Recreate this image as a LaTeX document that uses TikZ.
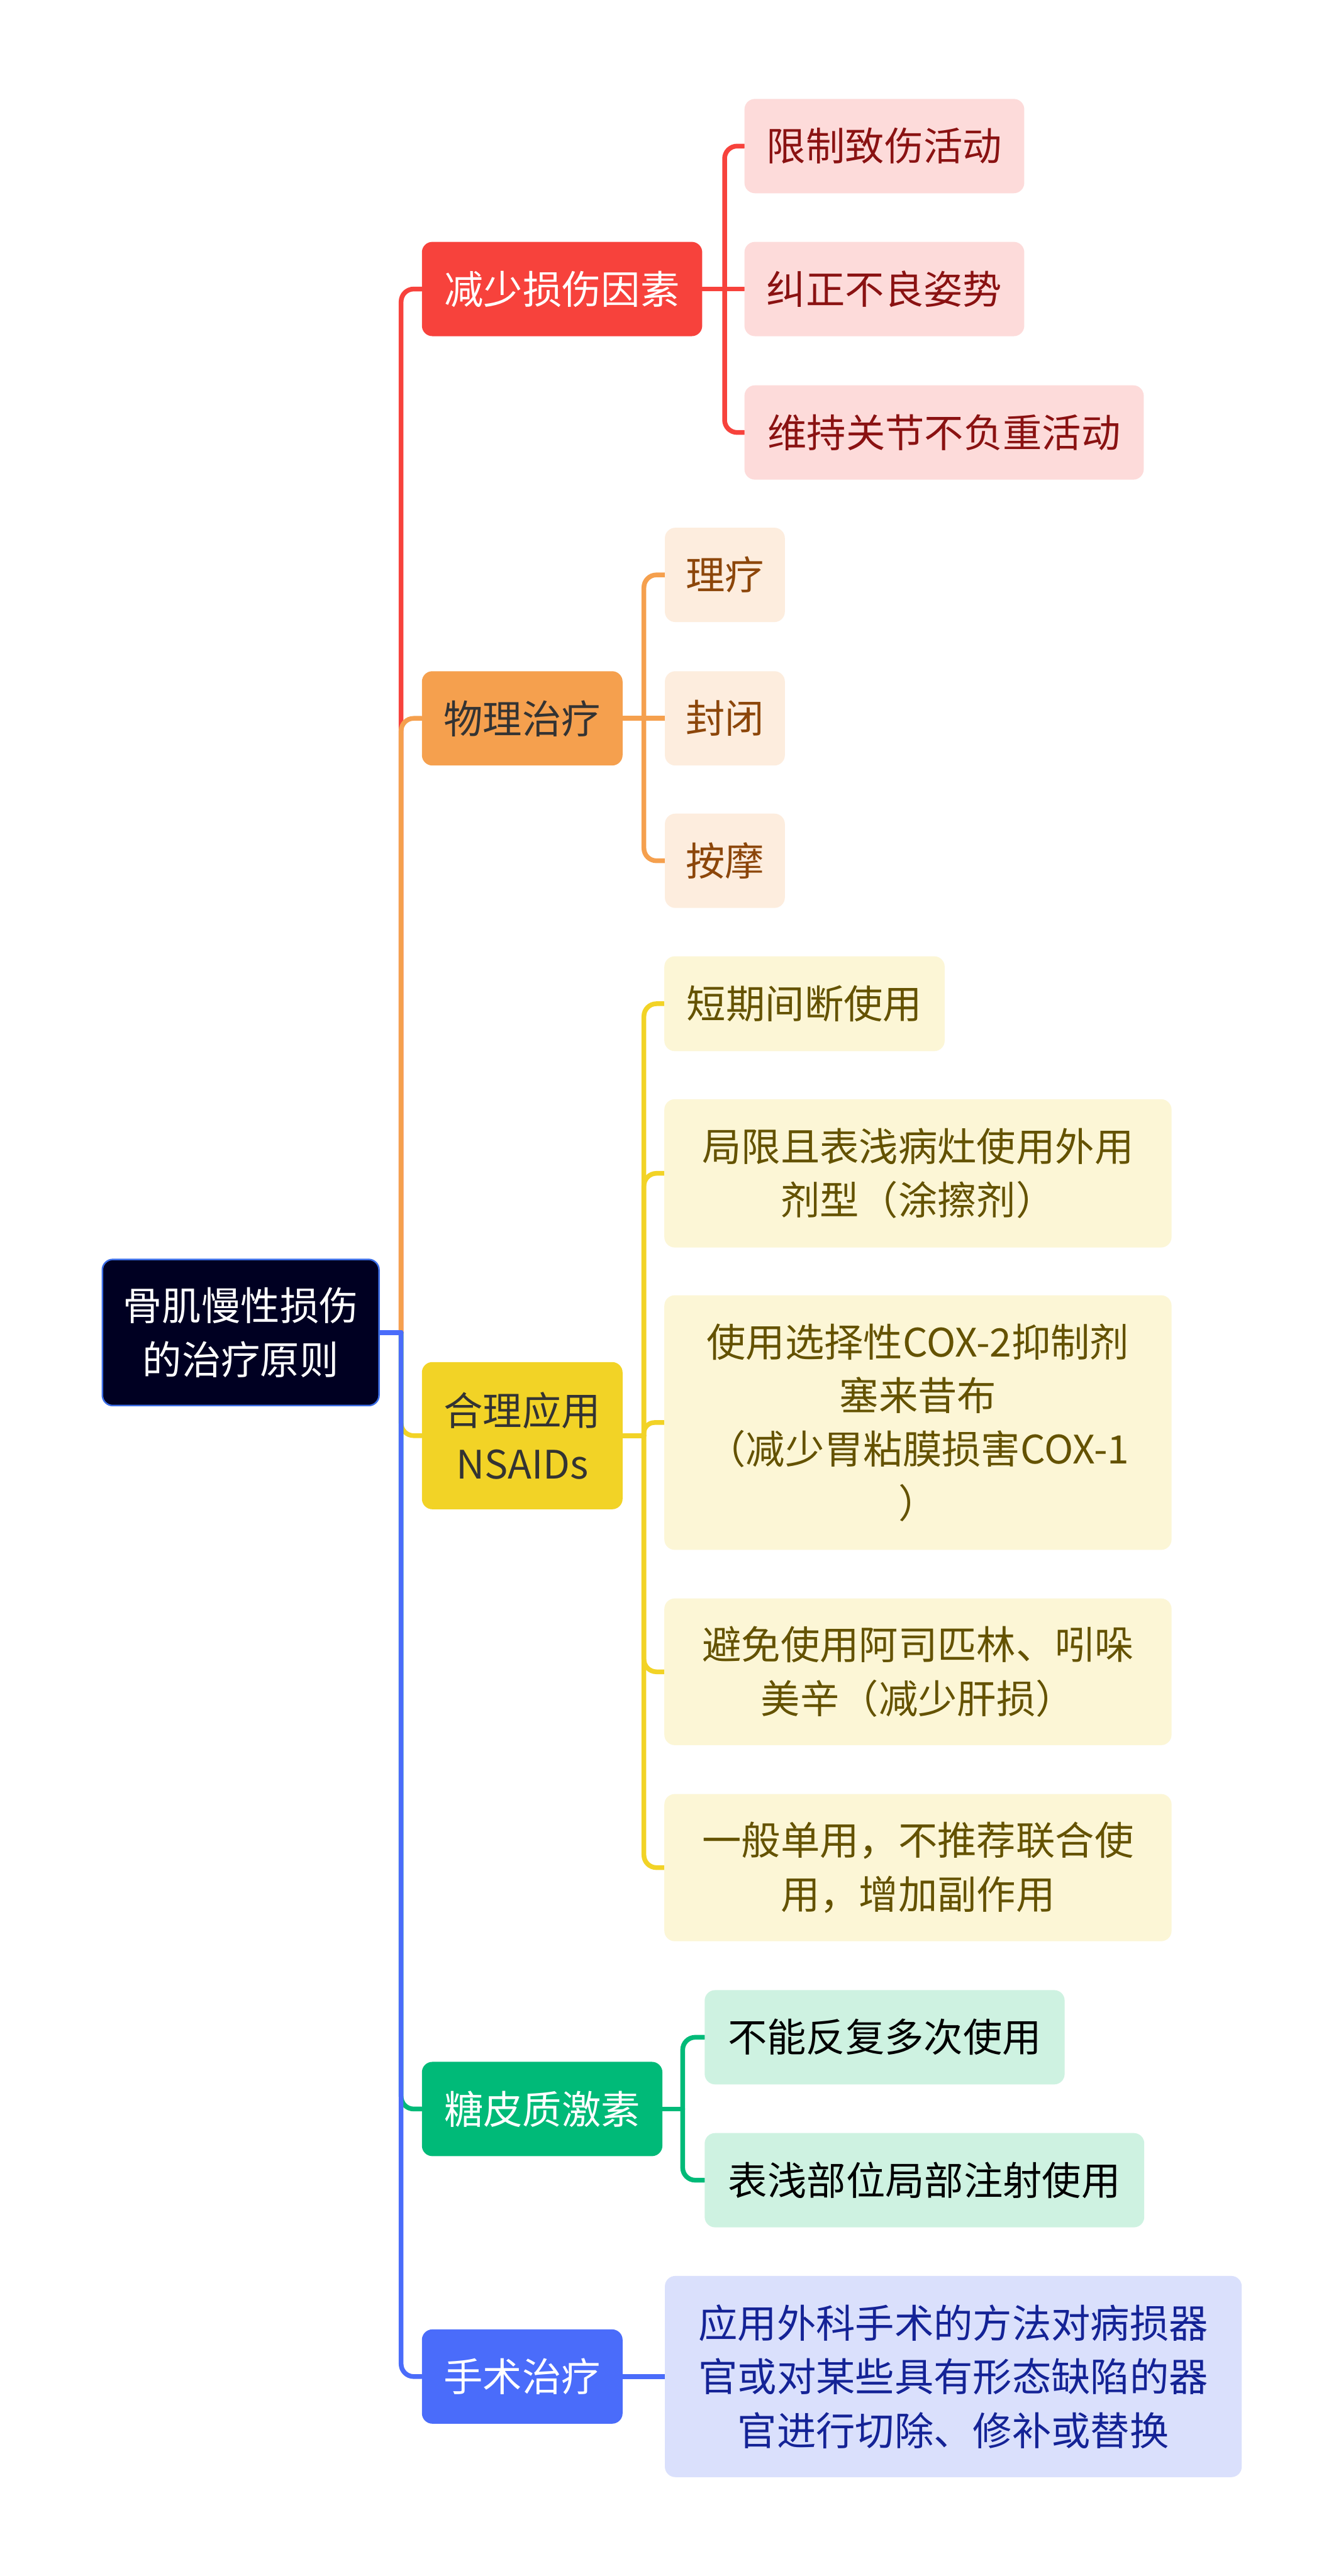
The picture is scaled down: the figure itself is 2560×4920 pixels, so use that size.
\documentclass[tikz,border=0pt]{standalone}
\usepackage{fontspec}
\setmainfont{Noto Sans CJK SC}
\usepackage{tikz}
\usetikzlibrary{positioning,backgrounds}
\definecolor{rootfill}{RGB}{0,0,34}
\definecolor{rootline}{RGB}{60,110,230}
\definecolor{cutred}{RGB}{247,66,60}
\definecolor{cutsoft}{RGB}{253,219,218}
\definecolor{cuttext}{RGB}{138,18,18}
\definecolor{physorange}{RGB}{245,160,78}
\definecolor{physsoft}{RGB}{253,237,222}
\definecolor{phystext}{RGB}{140,70,10}
\definecolor{drugyellow}{RGB}{242,211,38}
\definecolor{drugsoft}{RGB}{252,246,214}
\definecolor{drugtext}{RGB}{100,82,0}
\definecolor{glugreen}{RGB}{0,186,120}
\definecolor{glusoft}{RGB}{206,242,225}
\definecolor{surgblue}{RGB}{74,108,250}
\definecolor{surgsoft}{RGB}{218,224,252}
\definecolor{surgtext}{RGB}{20,35,150}
\definecolor{darktext}{RGB}{51,51,51}

\begin{document}
\begin{tikzpicture}[x=0.01cm, y=-0.01cm,
  box/.style={rounded corners=0.2cm, anchor=west, align=center, inner sep=0pt,
    minimum height=1.8cm, font=\fontsize{21.3pt}{29.2pt}\selectfont},
  topic/.style={box, fill=#1},
  leaf/.style={box, fill=#1},
  link/.style={line width=0.09cm, line cap=round, rounded corners=0.24cm, draw=#1}]
  \useasboundingbox (0,0) rectangle (2560,4920);

  % root
  \node[box, fill=rootfill, draw=rootline, line width=0.03cm, text=white,
    minimum width=5.28cm, minimum height=2.79cm] (root) at (194,2545) {骨肌慢性损伤\\的治疗原则};
  \coordinate (trunk) at (766,2545);

  % first level
  \node[topic=cutred, text=white, minimum width=5.35cm] (cut) at (805,552) {减少损伤因素};
  \node[topic=physorange, text=darktext, minimum width=3.83cm] (phys) at (805,1372) {物理治疗};
  \node[topic=drugyellow, text=darktext, minimum width=3.83cm, minimum height=2.81cm] (drug) at (805,2742) {合理应用\\NSAIDs};
  \node[topic=glugreen, text=white, minimum width=4.59cm] (glu) at (805,4028) {糖皮质激素};
  \node[topic=surgblue, text=white, minimum width=3.83cm] (surg) at (805,4539) {手术治疗};

  \coordinate[right=0.42cm of cut.east] (cutj);
  \coordinate[right=0.40cm of phys.east] (physj);
  \coordinate[right=0.40cm of drug.east] (drugj);
  \coordinate[right=0.38cm of glu.east] (gluj);

  % leaves
  \node[leaf=cutsoft, text=cuttext, minimum width=5.34cm] (cut1) at (1421,279) {限制致伤活动};
  \node[leaf=cutsoft, text=cuttext, minimum width=5.34cm] (cut2) at (1421,552) {纠正不良姿势};
  \node[leaf=cutsoft, text=cuttext, minimum width=7.62cm] (cut3) at (1421,826) {维持关节不负重活动};

  \node[leaf=physsoft, text=phystext, minimum width=2.29cm] (phys1) at (1269,1098) {理疗};
  \node[leaf=physsoft, text=phystext, minimum width=2.29cm] (phys2) at (1269,1372) {封闭};
  \node[leaf=physsoft, text=phystext, minimum width=2.29cm] (phys3) at (1269,1644) {按摩};

  \node[leaf=drugsoft, text=drugtext, minimum width=5.35cm, minimum height=1.81cm] (drug1) at (1268,1917) {短期间断使用};
  \node[leaf=drugsoft, text=drugtext, minimum width=9.68cm, minimum height=2.83cm] (drug2) at (1268,2241) {局限且表浅病灶使用外用\\剂型（涂擦剂）};
  \node[leaf=drugsoft, text=drugtext, minimum width=9.68cm, minimum height=4.86cm] (drug3) at (1268,2717) {使用选择性COX-2抑制剂\\塞来昔布\\（减少胃粘膜损害COX-1\\）};
  \node[leaf=drugsoft, text=drugtext, minimum width=9.68cm, minimum height=2.80cm] (drug4) at (1268,3193) {避免使用阿司匹林、吲哚\\美辛（减少肝损）};
  \node[leaf=drugsoft, text=drugtext, minimum width=9.68cm, minimum height=2.81cm] (drug5) at (1268,3567) {一般单用，不推荐联合使\\用，增加副作用};

  \node[leaf=glusoft, text=black, minimum width=6.87cm] (glu1) at (1345,3891) {不能反复多次使用};
  \node[leaf=glusoft, text=black, minimum width=8.39cm] (glu2) at (1345,4164) {表浅部位局部注射使用};

  \node[leaf=surgsoft, text=surgtext, minimum width=11.01cm, minimum height=3.84cm] (surg1) at (1269,4539) {应用外科手术的方法对病损器\\官或对某些具有形态缺陷的器\\官进行切除、修补或替换};

  % connectors
  \begin{scope}[on background layer]
    \fill[white] (0,0) rectangle (2560,4920);
    \draw[link=cutred] (trunk) |- (cut.west);
    \draw[link=physorange] (trunk) |- (phys.west);
    \draw[link=drugyellow] (trunk) |- (drug.west);
    \draw[link=glugreen] (trunk) |- (glu.west);
    \draw[link=surgblue] (trunk) |- (surg.west);
    \draw[link=surgblue] (root.east) -- (trunk);

    \draw[link=cutred] (cut.east) -- (cut2.west);
    \draw[link=cutred] (cutj) |- (cut1.west);
    \draw[link=cutred] (cutj) |- (cut3.west);

    \draw[link=physorange] (phys.east) -- (phys2.west);
    \draw[link=physorange] (physj) |- (phys1.west);
    \draw[link=physorange] (physj) |- (phys3.west);

    \draw[link=drugyellow] (drug.east) -- (drugj);
    \draw[link=drugyellow] (drugj) |- (drug1.west);
    \draw[link=drugyellow] (drugj) |- (drug2.west);
    \draw[link=drugyellow, rounded corners=0.2cm] (drugj) |- (drug3.west);
    \draw[link=drugyellow] (drugj) |- (drug4.west);
    \draw[link=drugyellow] (drugj) |- (drug5.west);

    \draw[link=glugreen] (glu.east) -- (gluj);
    \draw[link=glugreen] (gluj) |- (glu1.west);
    \draw[link=glugreen] (gluj) |- (glu2.west);

    \draw[link=surgblue] (surg.east) -- (surg1.west);
  \end{scope}
\end{tikzpicture}
\end{document}
